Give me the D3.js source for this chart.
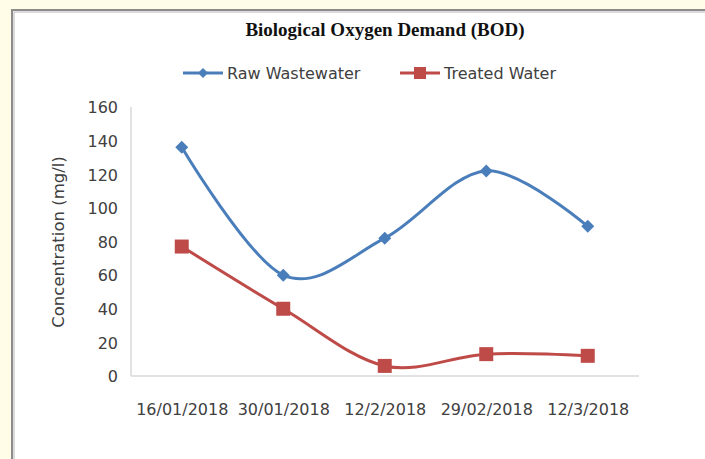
<!DOCTYPE html>
<html>
<head>
<meta charset="utf-8">
<script src="https://cdn.jsdelivr.net/npm/d3@7"></script>
<style>
  body { margin: 0; background: #fffce8; }
  svg { display: block; }
</style>
</head>
<body>
<div class="chart"></div>
<script>
const dates = ['16/01/2018', '30/01/2018', '12/2/2018', '29/02/2018', '12/3/2018']
const rawWater = [136, 60, 82, 122, 89]
const treatedWater = [77, 40, 6, 13, 12]
const yTicks = [0, 20, 40, 60, 80, 100, 120, 140, 160]

let w = 705,
    h = 459

const blue = '#4a7ebb',
      red = '#be4b48',
      axisGray = '#d9d9d9',
      textGray = '#404040'

// square turned 45 degrees, like the spreadsheet diamond marker
const diamond = (r) => `M0,${-r} L${r},0 L0,${r} L${-r},0 Z`
const square = (r) => `M${-r},${-r} H${r} V${r} H${-r} Z`

const svg = d3.select('.chart')
              .append('svg')
              .attr('width', w)
              .attr('height', h)

// chart frame
svg.append('rect')
   .attr('x', 11).attr('y', 9)
   .attr('width', w).attr('height', h)
   .attr('fill', '#fff')
svg.append('path')
   .attr('d', `M12,${h} V10 H${w}`)
   .attr('fill', 'none')
   .attr('stroke', '#8c8c8c')
   .attr('stroke-width', 2)
svg.append('path')
   .attr('d', `M14,${h} V12 H${w}`)
   .attr('fill', 'none')
   .attr('stroke', '#d0d0d0')
   .attr('stroke-width', 1.5)

const xScale = d3.scalePoint()
                 .domain(dates)
                 .range([131, 638.5])
                 .padding(0.5)

const yScale = d3.scaleLinear()
                 .domain([0, 160])
                 .range([376, 107])

const yAxis = d3.axisLeft(yScale).tickValues(yTicks).tickSize(0).tickPadding(13)
const xAxis = d3.axisBottom(xScale).tickSize(0).tickPadding(28)

const gy = svg.append('g').attr('transform', 'translate(131,0)').call(yAxis)
const gx = svg.append('g').attr('transform', 'translate(0,376)').call(xAxis)

gy.select('.domain').remove()
gx.select('.domain').attr('d', 'M131,0 H639')
gy.append('path').attr('d', 'M0,107 V376')

svg.selectAll('.domain, g > path')
   .attr('stroke', axisGray)
   .attr('stroke-width', 1.5)
   .attr('fill', 'none')

svg.selectAll('.tick text')
   .attr('font-family', 'DejaVu Sans')
   .attr('font-size', 16)
   .attr('fill', textGray)

gy.selectAll('.tick text').attr('dy', '0.36em')

svg.append('text')
   .text('Concentration (mg/l)')
   .attr('transform', 'translate(64,242) rotate(-90)')
   .attr('text-anchor', 'middle')
   .attr('font-family', 'DejaVu Sans')
   .attr('font-size', 16.5)
   .attr('fill', textGray)

svg.append('text')
   .text('Biological Oxygen Demand (BOD)')
   .attr('x', 385).attr('y', 36)
   .attr('text-anchor', 'middle')
   .attr('font-family', 'Liberation Serif')
   .attr('font-weight', 'bold')
   .attr('font-size', 19)
   .attr('fill', '#111')

const line = d3.line()
               .x((d, i) => xScale(dates[i]))
               .y((d) => yScale(d))
               .curve(d3.curveCatmullRom.alpha(0))

const series = [
  { name: 'Raw Wastewater', values: rawWater, color: blue, marker: diamond, r: 6.5, lr: 5 },
  { name: 'Treated Water', values: treatedWater, color: red, marker: square, r: 7, lr: 6 }
]

series.forEach((s) => {
  svg.append('path')
     .attr('d', line(s.values))
     .attr('fill', 'none')
     .attr('stroke', s.color)
     .attr('stroke-width', 3)

  svg.selectAll(null)
     .data(s.values)
     .enter()
     .append('path')
     .attr('d', s.marker(s.r))
     .attr('transform', (d, i) => `translate(${xScale(dates[i])},${yScale(d)})`)
     .attr('fill', s.color)
})

// legend
const legendX = [183, 400]
series.forEach((s, i) => {
  const g = svg.append('g').attr('transform', `translate(${legendX[i]},73)`)
  g.append('line')
   .attr('x1', 0).attr('x2', 40)
   .attr('stroke', s.color)
   .attr('stroke-width', 3)
  g.append('path')
   .attr('d', s.marker(s.lr))
   .attr('transform', 'translate(20,0)')
   .attr('fill', s.color)
  g.append('text')
   .text(s.name)
   .attr('x', 44)
   .attr('dy', '0.36em')
   .attr('font-family', 'DejaVu Sans')
   .attr('font-size', 16)
   .attr('fill', textGray)
})
</script>
</body>
</html>
